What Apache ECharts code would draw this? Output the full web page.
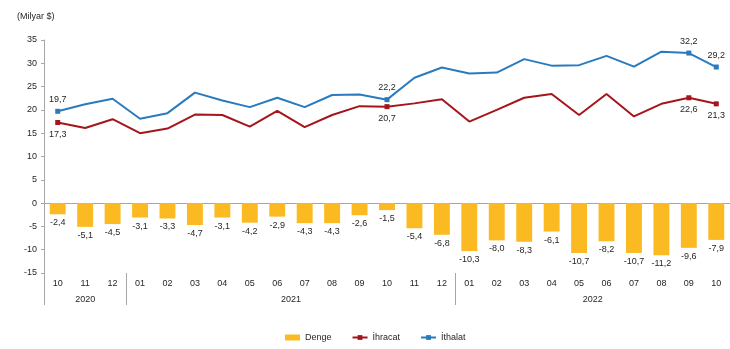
<!DOCTYPE html>
<html>
<head>
<meta charset="utf-8">
<script src="https://cdn.jsdelivr.net/npm/echarts@6/dist/echarts.min.js"></script>
<style>html,body{margin:0;padding:0;background:#fff}#c{width:730px;height:349px}</style>
</head>
<body>
<div id="c"></div>
<script>
var months = ['10','11','12','01','02','03','04','05','06','07','08','09','10','11','12','01','02','03','04','05','06','07','08','09','10'];
var yearLabels = ['2020','2021','2022'];
var yearCenters = [1, 8.5, 19.5];
var yearBounds = [-0.5, 2.5, 14.5];
var denge = [-2.4,-5.1,-4.5,-3.1,-3.3,-4.7,-3.1,-4.2,-2.9,-4.3,-4.3,-2.6,-1.5,-5.4,-6.8,-10.3,-8.0,-8.3,-6.1,-10.7,-8.2,-10.7,-11.2,-9.6,-7.9];
var ihracat = [17.3,16.1,18.0,15.0,16.0,19.0,18.9,16.4,19.8,16.3,18.9,20.8,20.7,21.4,22.3,17.5,20.0,22.6,23.4,18.9,23.4,18.6,21.3,22.6,21.3];
var ithalat = [19.7,21.2,22.4,18.1,19.3,23.7,22.0,20.6,22.6,20.6,23.2,23.3,22.2,26.9,29.1,27.8,28.0,30.9,29.5,29.6,31.6,29.3,32.5,32.2,29.2];
var markedIdx = [0, 12, 23, 24];

var FONT = 'Liberation Sans, Arial, sans-serif';
var TXT = '#262626';
var AX = '#a6a6a6';
function fmt(v){ return v.toFixed(1).replace('.', ','); }
function lineData(arr, pos){
  return arr.map(function(v,i){
    if (markedIdx.indexOf(i) >= 0) {
      return {value: v, symbol: 'rect', label: {show: true, position: pos}};
    }
    return {value: v, symbol: 'none'};
  });
}
var chart = echarts.init(document.getElementById('c'), null, {renderer: 'canvas'});
chart.setOption({
  animation: false,
  textStyle: {fontFamily: FONT},
  title: {text: '(Milyar $)', left: 17, top: 12, padding: 0, textStyle: {fontFamily: FONT, fontSize: 9, fontWeight: 'normal', color: TXT}},
  grid: {left: 44, right: 0, top: 40, bottom: 76, containLabel: false},
  legend: {
    left: 280, top: 328, itemWidth: 15, itemHeight: 6, itemGap: 20,
    textStyle: {fontFamily: FONT, fontSize: 9, color: TXT},
    data: [{name: 'Denge', icon: 'rect'}, 'İhracat', 'İthalat']
  },
  xAxis: [
    {type: 'category', data: months, position: 'bottom',
     axisLine: {show: false, onZero: false}, axisTick: {show: false},
     axisLabel: {fontFamily: FONT, fontSize: 9, color: TXT, margin: 6, interval: 0}},
    {type: 'value', min: -0.5, max: 24.5, position: 'bottom',
     axisLine: {show: false, onZero: false}, splitLine: {show: false},
     axisTick: {show: true, customValues: yearBounds, length: 32, lineStyle: {color: AX}},
     axisLabel: {customValues: yearCenters, fontFamily: FONT, fontSize: 9, color: TXT, margin: 22,
       formatter: function(v){ var k = yearCenters.indexOf(v); return k >= 0 ? yearLabels[k] : ''; }}},
    {type: 'category', data: months, position: 'bottom',
     axisLine: {show: true, onZero: true, lineStyle: {color: AX, width: 1}},
     axisTick: {show: false}, axisLabel: {show: false}}
  ],
  yAxis: {
    type: 'value', min: -15, max: 35, interval: 5,
    axisLine: {show: true, onZero: false, lineStyle: {color: AX}},
    axisTick: {show: true, length: 3, lineStyle: {color: AX}},
    splitLine: {show: false},
    axisLabel: {fontFamily: FONT, fontSize: 9, color: TXT, margin: 7}
  },
  series: [
    {name: 'Denge', type: 'bar', xAxisIndex: 0, data: denge, barWidth: '58%',
     itemStyle: {color: '#FCBA22'},
     label: {show: true, position: 'bottom', distance: 4, fontFamily: FONT, fontSize: 9, color: TXT,
       formatter: function(p){ return fmt(p.value); }}},
    {name: 'İhracat', type: 'line', xAxisIndex: 0, data: lineData(ihracat, 'bottom'),
     symbol: 'rect', symbolSize: 5, showSymbol: true,
     lineStyle: {color: '#A5151B', width: 2}, itemStyle: {color: '#A5151B'},
     label: {fontFamily: FONT, fontSize: 9, color: TXT, distance: 5, formatter: function(p){ return fmt(p.value); }}},
    {name: 'İthalat', type: 'line', xAxisIndex: 0, data: lineData(ithalat, 'top'),
     symbol: 'rect', symbolSize: 5, showSymbol: true,
     lineStyle: {color: '#2A7BBE', width: 2}, itemStyle: {color: '#2A7BBE'},
     label: {fontFamily: FONT, fontSize: 9, color: TXT, distance: 5, formatter: function(p){ return fmt(p.value); }}}
  ]
});
</script>
</body>
</html>
